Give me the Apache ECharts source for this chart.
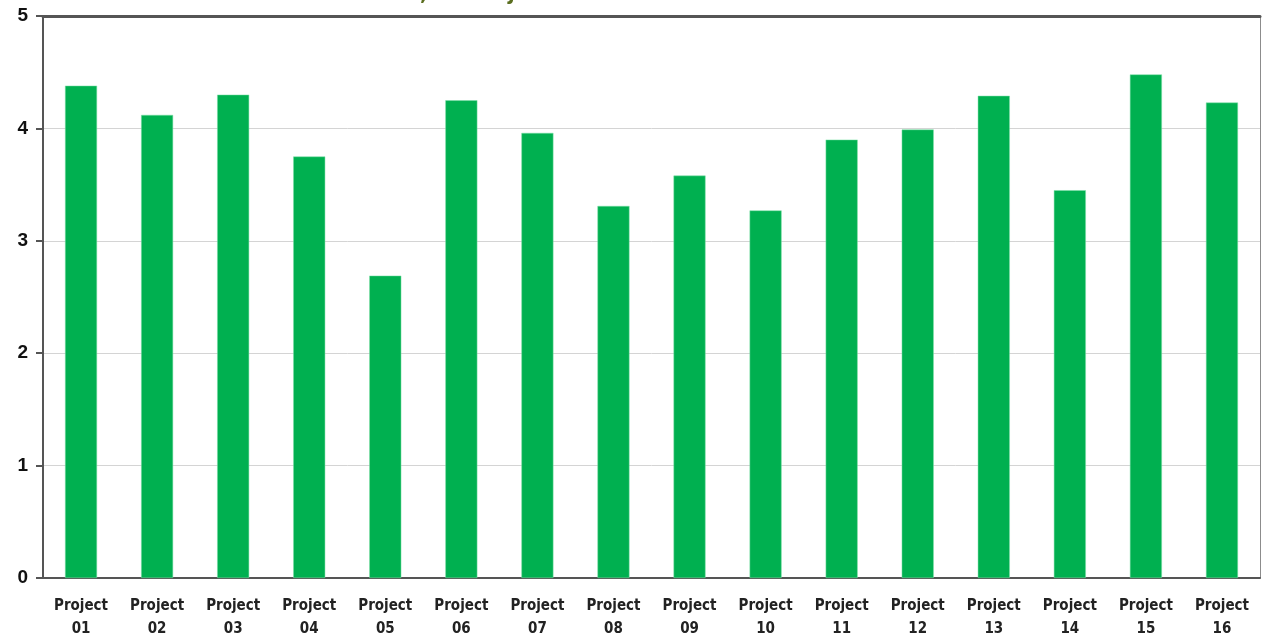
<!DOCTYPE html>
<html>
<head>
<meta charset="utf-8">
<title>Scores by Project</title>
<script src="https://cdn.jsdelivr.net/npm/echarts@6/dist/echarts.min.js"></script>
<style>
  html, body { margin: 0; padding: 0; background: #ffffff; }
  #chart { width: 1262px; height: 636px; }
</style>
</head>
<body>
<div id="chart"></div>
<script>
// Categories and scores (scale 0–5)
const projects = [
  'Project\n01', 'Project\n02', 'Project\n03', 'Project\n04',
  'Project\n05', 'Project\n06', 'Project\n07', 'Project\n08',
  'Project\n09', 'Project\n10', 'Project\n11', 'Project\n12',
  'Project\n13', 'Project\n14', 'Project\n15', 'Project\n16'
];
const scores = [4.38, 4.12, 4.30, 3.75, 2.69, 4.25, 3.96, 3.31,
                3.58, 3.27, 3.90, 3.99, 4.29, 3.45, 4.48, 4.23];
const yTicks = [0, 1, 2, 3, 4, 5];
const chartTitle = 'Mean Scores, All Projects';

const labelFont = '"DejaVu Sans Condensed", "Liberation Sans", sans-serif';

const chart = echarts.init(document.getElementById('chart'), null, { renderer: 'canvas' });

chart.setOption({
  animation: false,
  backgroundColor: '#ffffff',
  title: {
    text: chartTitle,
    left: 278,
    top: -17,
    padding: 0,
    textStyle: {
      color: '#5b6e1f',
      fontFamily: labelFont,
      fontWeight: 'bold',
      fontSize: 22
    }
  },
  grid: { left: 43, right: 2, top: 16, bottom: 58, containLabel: false, outerBoundsMode: 'none' },
  xAxis: [
    {
      type: 'category',
      data: projects,
      position: 'bottom',
      axisLine: { show: true, onZero: false, lineStyle: { color: '#555555', width: 2 } },
      axisTick: { show: false },
      axisLabel: {
        interval: 0,
        margin: 17,
        color: '#222222',
        fontFamily: labelFont,
        fontWeight: 'bold',
        fontSize: 15,
        lineHeight: 23
      },
      splitLine: { show: false }
    },
    {
      // plot frame: heavy top edge
      type: 'category',
      data: projects,
      position: 'top',
      axisLine: { show: true, onZero: false, lineStyle: { color: '#555555', width: 3 } },
      axisTick: { show: false },
      axisLabel: { show: false },
      splitLine: { show: false }
    }
  ],
  yAxis: [
    {
      type: 'value',
      min: 0,
      max: 5,
      interval: 1,
      position: 'left',
      axisLine: { show: true, lineStyle: { color: '#555555', width: 2 } },
      axisTick: { show: true, length: 7, lineStyle: { color: '#555555', width: 2 } },
      axisLabel: {
        margin: 15,
        color: '#111111',
        fontFamily: '"Liberation Sans", Arial, sans-serif',
        fontWeight: 'bold',
        fontSize: 19,
        formatter: function (v) { return yTicks.indexOf(v) >= 0 ? String(v) : ''; }
      },
      splitLine: { show: true, lineStyle: { color: '#d4d4d4', width: 1 } }
    },
    {
      // plot frame: thin right edge
      type: 'value',
      min: 0,
      max: 5,
      interval: 1,
      position: 'right',
      axisLine: { show: true, lineStyle: { color: '#8c8c8c', width: 1 } },
      axisTick: { show: false },
      axisLabel: { show: false },
      splitLine: { show: false }
    }
  ],
  series: [
    {
      type: 'bar',
      data: scores,
      xAxisIndex: 0,
      yAxisIndex: 0,
      barWidth: 32,
      itemStyle: { color: '#00b050', borderColor: '#7fe0a8', borderWidth: 0.5 }
    }
  ]
});
</script>
</body>
</html>
